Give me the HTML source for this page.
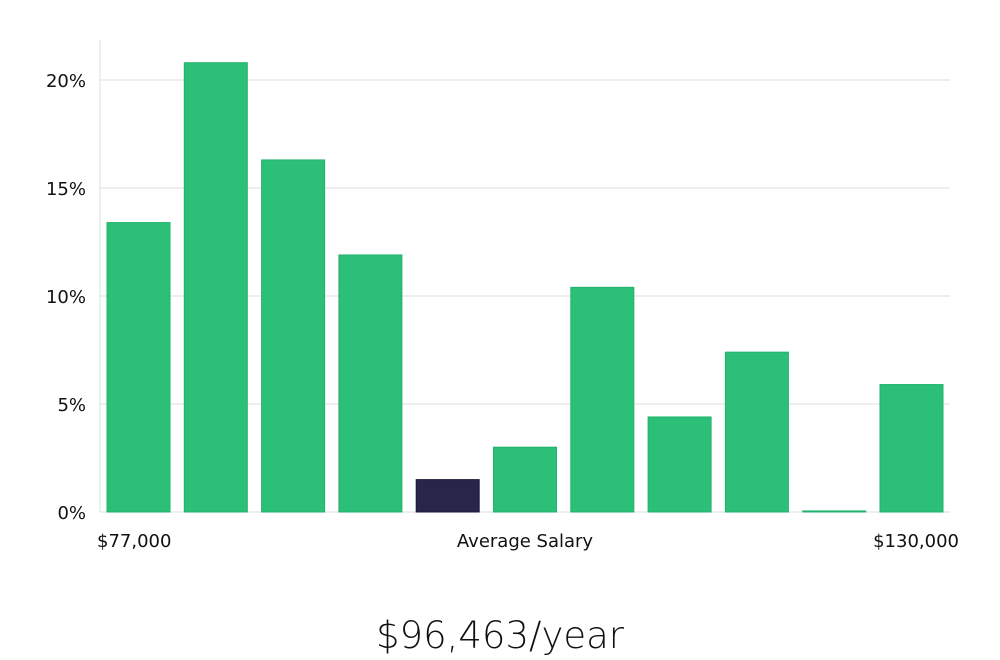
<!DOCTYPE html>
<html><head><meta charset="utf-8"><style>
html,body{margin:0;padding:0;background:#fff;}
svg{display:block;font-family:"DejaVu Sans","Liberation Sans",sans-serif;}
</style></head><body>
<svg id="chart" width="1000" height="660" viewBox="0 0 1000 660">
<g id="grid"></g><g id="bars"></g><g id="yticks"></g>
<line x1="100" y1="40" x2="100" y2="512" stroke="#dddddd" stroke-width="1"/>
<text x="97" y="547" font-size="18" fill="#111">$77,000</text>
<text x="525" y="547" font-size="18" fill="#111" text-anchor="middle">Average Salary</text>
<text x="959" y="547" font-size="18" fill="#111" text-anchor="end">$130,000</text>
<text x="500" y="648" font-size="37" fill="#111" text-anchor="middle" font-weight="300">$96,463/year</text>
</svg>
<script>
const categories = ["b1","b2","b3","b4","b5","b6","b7","b8","b9","b10","b11"];
const values = [13.4, 20.8, 16.3, 11.9, 1.5, 3.0, 10.4, 4.4, 7.4, 0.05, 5.9];
const highlightIndex = 4;
const yTicks = [0, 5, 10, 15, 20];
const yTickLabels = ["0%","5%","10%","15%","20%"];

const NS = "http://www.w3.org/2000/svg";
const y0 = 512, pxPerPct = 21.6, x0 = 107, pitch = 77.3, bw = 63;
const yScale = v => y0 - v * pxPerPct;
const xScale = i => x0 + i * pitch;
const grid = document.getElementById('grid'), bars = document.getElementById('bars'), yt = document.getElementById('yticks');
yTicks.forEach((t, i) => {
  const l = document.createElementNS(NS, 'line');
  l.setAttribute('x1', 100); l.setAttribute('x2', 950);
  l.setAttribute('y1', yScale(t)); l.setAttribute('y2', yScale(t));
  l.setAttribute('stroke', '#dddddd'); l.setAttribute('stroke-width', 1);
  
  
  grid.appendChild(l);
  const tx = document.createElementNS(NS, 'text');
  tx.setAttribute('x', 86); tx.setAttribute('y', yScale(t) + 7);
  tx.setAttribute('text-anchor', 'end'); tx.setAttribute('font-size', 18); tx.setAttribute('fill', '#111');
  tx.textContent = yTickLabels[i];
  
  
  yt.appendChild(tx);
});
values.forEach((v, i) => {
  const r = document.createElementNS(NS, 'rect');
  const top = yScale(v);
  r.setAttribute('x', xScale(i)); r.setAttribute('y', top);
  r.setAttribute('width', bw); r.setAttribute('height', Math.max(1, y0 - top));
  r.setAttribute('fill', i === highlightIndex ? '#29244a' : '#2bbf77');
  r.setAttribute('stroke', i === highlightIndex ? '#1e1a3a' : '#20b36c');
  r.setAttribute('stroke-width', 1);
  
  
  bars.appendChild(r);
});
</script>
</body></html>
